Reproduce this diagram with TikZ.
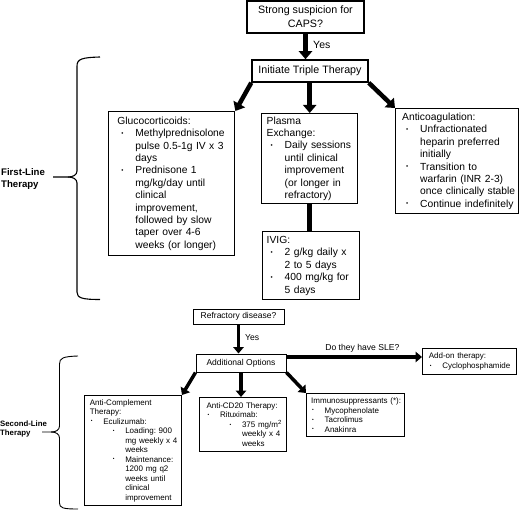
\documentclass[tikz,border=0pt]{standalone}
\usepackage{fontspec}
\setmainfont{Liberation Sans}
\usetikzlibrary{arrows.meta}
\frenchspacing
\newcommand{\dotb}{\raisebox{0.28ex}{\scalebox{0.6}{\textbullet}}}
\newcommand{\Bi}[3]{\mbox{\makebox[#2][l]{\hspace*{#1}\dotb}#3}}
\newcommand{\Ct}[2]{\mbox{\hspace*{#1}#2}}
\newcommand{\Ba}[1]{\Bi{4pt}{18pt}{#1}}
\newcommand{\Ca}[1]{\Ct{18pt}{#1}}
\newcommand{\Bb}[1]{\Bi{1pt}{13.5pt}{#1}}
\newcommand{\Cb}[1]{\Ct{13.5pt}{#1}}
\newcommand{\Bc}[1]{\Bi{23pt}{35.5pt}{#1}}
\newcommand{\Cc}[1]{\Ct{35.5pt}{#1}}
\tikzset{
  topbox/.style={draw, line width=1.5pt, align=center, inner sep=1pt,
    font=\fontsize{10.7}{14}\selectfont},
  bxA/.style={draw, line width=1.4pt, inner ysep=1pt, align=left, anchor=north west,
    font=\fontsize{10.3}{12.4}\selectfont},
  smallbox/.style={draw, line width=1pt, align=center, inner sep=1pt,
    font=\fontsize{8.5}{10}\selectfont},
  bxB/.style={draw, line width=1pt, inner ysep=1pt, align=left, anchor=north west,
    font=\fontsize{8}{9.5}\selectfont},
  arrA/.style={line width=4.5pt, -{Triangle[length=8pt,width=13pt]}},
  arrB/.style={line width=3.5pt, -{Triangle[length=6.5pt,width=10.5pt]}},
  lineA/.style={line width=4.5pt},
  brace/.style={line width=1.1pt},
  lblA/.style={font=\fontsize{10.5}{12}\selectfont, inner sep=0pt, anchor=west},
  lblB/.style={font=\fontsize{8.6}{10}\selectfont, inner sep=0pt},
  side/.style={align=left, inner sep=0pt, anchor=west, font=\bfseries},
}
\begin{document}
\begin{tikzpicture}[x=1pt,y=-1pt]
\useasboundingbox (0,0) rectangle (520,511);

% ---------- First line ----------
\node[topbox, minimum width=117pt, minimum height=32pt] (caps) at (305.5,17)
  {Strong suspicion for\\CAPS?};
\node[topbox, minimum width=116pt, minimum height=22pt] (init) at (310,71)
  {Initiate Triple Therapy};

\node[bxA, minimum width=126pt, minimum height=144pt, inner xsep=8.7pt, text width=108.6pt]
  (gluco) at (108,111)
  {\mbox{Glucocorticoids:}\\
   \Ba{Methylprednisolone}\\
   \Ca{pulse 0.5-1g IV x 3}\\
   \Ca{days}\\
   \Ba{Prednisone 1}\\
   \Ca{mg/kg/day until}\\
   \Ca{clinical}\\
   \Ca{improvement,}\\
   \Ca{followed by slow}\\
   \Ca{taper over 4-6}\\
   \Ca{weeks (or longer)}};

\node[bxA, minimum width=96pt, minimum height=90pt, inner xsep=5pt, text width=86pt]
  (plasma) at (261,113)
  {\mbox{Plasma}\\
   \mbox{Exchange:}\\
   \Ba{Daily sessions}\\
   \Ca{until clinical}\\
   \Ca{improvement}\\
   \Ca{(or longer in}\\
   \Ca{refractory)}};

\node[bxA, minimum width=97pt, minimum height=68pt, inner xsep=4pt, text width=89pt]
  (ivig) at (262,231)
  {\mbox{IVIG:}\\
   \Ba{2 g/kg daily x}\\
   \Ca{2 to 5 days}\\
   \Ba{400 mg/kg for}\\
   \Ca{5 days}};

\node[bxA, minimum width=123pt, minimum height=105pt, inner xsep=6.5pt, text width=110pt]
  (anti) at (395,108)
  {\mbox{Anticoagulation:}\\
   \Ba{Unfractionated}\\
   \Ca{heparin preferred}\\
   \Ca{initially}\\
   \Ba{Transition to}\\
   \Ca{warfarin (INR 2-3)}\\
   \Ca{once clinically stable}\\
   \Ba{Continue indefinitely}};

\draw[arrA] (caps.south) -- (caps.south |- init.north);
\node[lblA] (yes1) at (313,45) {Yes};
\draw[arrA] (init.south west) -- (gluco.north east);
\draw[arrA] (plasma.north |- init.south) -- (plasma.north);
\draw[arrA] (init.south east) -- (anti.north west);
\draw[lineA] (plasma.south) -- (plasma.south |- ivig.north);

% brace 1
\node[side, font=\fontsize{9.6}{12}\selectfont\bfseries] (first) at (1,179) {First-Line\\Therapy};
\draw[brace] (100,57) .. controls (82,57.5) and (77,59) .. (77,66) -- (77,171)
  .. controls (77,175) and (73,177) .. (68,177) -- (53,177);
\draw[brace] (68,177) .. controls (73,177) and (77,179) .. (77,183) -- (77,292)
  .. controls (77,298) and (82,299.5) .. (100,299.5);

% ---------- Second line ----------
\node[smallbox, minimum width=91pt, minimum height=15pt] (refr) at (238.5,316.5)
  {Refractory disease?};
\node[smallbox, minimum width=90pt, minimum height=18pt] (addopt) at (241,363)
  {Additional Options};

\node[bxB, minimum width=94pt, minimum height=26pt, inner xsep=6.3pt, text width=81.4pt]
  (addon) at (422,348)
  {\mbox{Add-on therapy:}\\
   \Bb{Cyclophosphamide}};

\node[bxB, minimum width=97pt, minimum height=110pt, inner xsep=5.3pt, text width=86.4pt]
  (acomp) at (84,395)
  {\mbox{Anti-Complement}\\
   \mbox{Therapy:}\\
   \Bb{Eculizumab:}\\
   \Bc{Loading: 900}\\
   \Cc{mg weekly x 4}\\
   \Cc{weeks}\\
   \Bc{Maintenance:}\\
   \Cc{1200 mg q2}\\
   \Cc{weeks until}\\
   \Cc{clinical}\\
   \Cc{improvement}};

\node[bxB, minimum width=87pt, minimum height=54pt, inner xsep=7pt, text width=73pt]
  (cd20) at (199,397)
  {\mbox{Anti-CD20 Therapy:}\\
   \Bb{Rituximab:}\\
   \Bc{375 mg/m\textsuperscript{2}}\\
   \Cc{weekly x 4}\\
   \Cc{weeks}};

\node[bxB, minimum width=98pt, minimum height=43pt, inner xsep=4.7pt, text width=88.6pt]
  (immuno) at (306,393)
  {\mbox{Immunosuppressants (*):}\\
   \Bb{Mycophenolate}\\
   \Bb{Tacrolimus}\\
   \Bb{Anakinra}};

\draw[arrB] (refr.south) -- (refr.south |- addopt.north);
\node[lblB, anchor=west] (yes2) at (245,338) {Yes};
\draw[arrB] ([yshift=6pt]addopt.east) coordinate (sleA) -- (sleA -| addon.west)
  node[lblB, pos=0.56, above=2.5pt] (sle) {Do they have SLE?};
\draw[arrB] (addopt.south west) -- (acomp.north east);
\draw[arrB] (addopt.south) -- (addopt.south |- cd20.north);
\draw[arrB] (addopt.south east) -- (immuno.north west);

% brace 2
\node[side, font=\fontsize{7.8}{9}\selectfont\bfseries] (second) at (0,429) {Second-Line\\Therapy};
\draw[brace, line width=0.9pt] (78,356) .. controls (63,356.5) and (59.5,358) .. (59.5,364) -- (59.5,426)
  .. controls (59.5,430) and (56,432) .. (51,432) -- (42,432);
\draw[brace, line width=0.9pt] (51,432) .. controls (56,432) and (59.5,434) .. (59.5,438) -- (59.5,503)
  .. controls (59.5,508) and (63,509) .. (78,509);
\end{tikzpicture}
\end{document}
